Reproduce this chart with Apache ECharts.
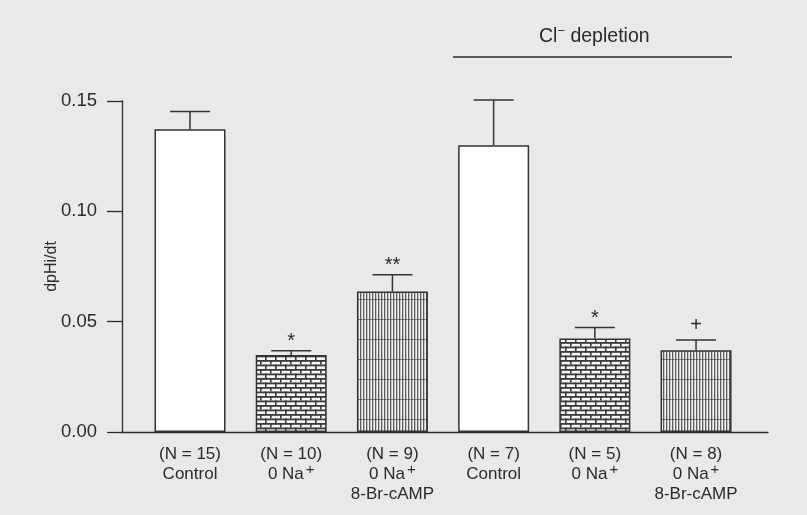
<!DOCTYPE html>
<html>
<head>
  <meta charset="utf-8">
  <title>dpHi/dt</title>
  <style type="text/css">
    html, body { margin: 0; padding: 0; background: #e8e9eb; }
    #main { width: 807px; height: 515px; }
  </style>
</head>
<body>
<div id="main"></div>
<script type="text/javascript" src="https://cdn.jsdelivr.net/npm/echarts@6/dist/echarts.min.js"></script>
<script type="text/javascript">
  // group sizes and treatments, left to right
  var nLabels = ['(N = 15)', '(N = 10)', '(N = 9)', '(N = 7)', '(N = 5)', '(N = 8)'];
  var treatments = ['Control', '0 Na+', '0 Na+ 8-Br-cAMP', 'Control', '0 Na+', '0 Na+ 8-Br-cAMP'];
  var means = [0.1372, 0.0349, 0.0637, 0.1300, 0.0424, 0.0371];
  var sems = [0.0080, 0.0019, 0.0076, 0.0204, 0.0050, 0.0046];
  var marks = ['', '*', '**', '', '*', '+'];
  var yTicks = [0, 0.05, 0.10, 0.15];

  var font = '"Liberation Sans", Arial, Helvetica, sans-serif';
  var ink = '#2a2a2a';

  // brick fill for the 0 Na+ bars
  function brickPattern() {
    var c = document.createElement('canvas');
    c.width = 10; c.height = 9;
    var g = c.getContext('2d');
    g.fillStyle = '#f6f6f6';
    g.fillRect(0, 0, 10, 9);
    g.fillStyle = '#3a3a3a';
    g.fillRect(0, 0, 10, 1.8);
    g.fillRect(0, 0, 1.6, 4.5);
    g.fillRect(0, 4.5, 10, 1.8);
    g.fillRect(5, 4.5, 1.6, 4.5);
    return { image: c, repeat: 'repeat' };
  }

  // vertical hatching for the 8-Br-cAMP bars
  function stripePattern() {
    var c = document.createElement('canvas');
    c.width = 3; c.height = 20;
    var g = c.getContext('2d');
    g.fillStyle = '#f2f2f2';
    g.fillRect(0, 0, 3, 20);
    g.fillStyle = '#5c5c5c';
    g.fillRect(0, 0, 1.3, 20);
    g.fillStyle = 'rgba(60,60,60,0.6)';
    g.fillRect(0, 19, 3, 1);
    return { image: c, repeat: 'repeat' };
  }

  var fills = { 'Control': '#ffffff', '0 Na+': brickPattern(), '0 Na+ 8-Br-cAMP': stripePattern() };

  function labelText(i) {
    var t = treatments[i];
    var lines = ['{n|' + nLabels[i] + '}'];
    if (t === 'Control') {
      lines.push('{n|Control}');
    } else {
      lines.push('{n|0 Na}{sup|+}');
      if (t.indexOf('8-Br-cAMP') >= 0) lines.push('{n|8-Br-cAMP}');
    }
    return lines.join('\n');
  }

  var barData = means.map(function (m, i) {
    return {
      value: [i, m],
      itemStyle: { color: fills[treatments[i]] }
    };
  });
  var errData = means.map(function (m, i) { return [i, m, sems[i]]; });

  var myChart = echarts.init(document.getElementById('main'));

  var option = {
    backgroundColor: '#e8e9eb',
    animation: false,
    grid: { left: 122, right: 39, top: 101, bottom: 83 },
    xAxis: {
      type: 'value',
      min: -0.672,
      max: 5.711,
      axisLine: { show: true, onZero: false, lineStyle: { color: ink, width: 1.3 } },
      axisTick: { show: false },
      axisLabel: { show: false },
      splitLine: { show: false }
    },
    yAxis: {
      type: 'value',
      min: yTicks[0],
      max: yTicks[yTicks.length - 1],
      interval: 0.05,
      name: 'dpHi/dt',
      nameLocation: 'middle',
      nameGap: 62,
      nameMoveOverlap: false,
      nameTextStyle: { fontFamily: font, fontSize: 16, color: ink },
      axisLine: { show: true, onZero: false, lineStyle: { color: ink, width: 1.3 } },
      axisTick: { show: true, inside: false, length: 15, lineStyle: { color: ink, width: 1.3 } },
      axisLabel: {
        margin: 25,
        fontFamily: font,
        fontSize: 18.5,
        color: ink,
        formatter: function (v) { return v.toFixed(2); }
      },
      splitLine: { show: false }
    },
    series: [
      {
        type: 'bar',
        barWidth: 71,
        data: barData,
        itemStyle: { borderColor: '#333333', borderWidth: 1.5 },
        label: {
          show: true,
          position: 'bottom',
          distance: 12,
          align: 'center',
          formatter: function (p) { return labelText(p.dataIndex); },
          rich: {
            n: { fontFamily: font, fontSize: 17, color: ink, lineHeight: 20 },
            sup: { fontFamily: font, fontSize: 15, color: ink, lineHeight: 20, padding: [0, 0, 9, 2] }
          }
        }
      },
      {
        type: 'custom',
        data: errData,
        z: 5,
        renderItem: function (params, api) {
          var x = api.value(0), m = api.value(1), e = api.value(2);
          var p0 = api.coord([x, m]);
          var p1 = api.coord([x, m + e]);
          var mk = marks[params.dataIndex];
          var lift = mk === '+' ? 14 : 9;
          return {
            type: 'group',
            children: [
              { type: 'line', shape: { x1: p0[0], y1: p0[1], x2: p1[0], y2: p1[1] }, style: { stroke: '#333', lineWidth: 1.5 } },
              { type: 'line', shape: { x1: p1[0] - 20, y1: p1[1], x2: p1[0] + 20, y2: p1[1] }, style: { stroke: '#333', lineWidth: 1.5 } },
              { type: 'text', x: p1[0], y: p1[1] - lift, style: { text: mk, fontFamily: font, fontSize: 20, fill: ink, align: 'center', verticalAlign: 'middle' } }
            ]
          };
        }
      }
    ],
    graphic: [
      {
        type: 'text',
        left: 539,
        top: 25,
        style: {
          text: 'Cl{sup|\u2212} depletion',
          fontFamily: font,
          fontSize: 19.5,
          fill: ink,
          rich: { sup: { fontFamily: font, fontSize: 13, fill: ink, padding: [0, 0, 10, 0] } }
        }
      },
      {
        type: 'line',
        shape: { x1: 453, y1: 57, x2: 732, y2: 57 },
        style: { stroke: ink, lineWidth: 1.3 }
      }
    ]
  };

  myChart.setOption(option);
</script>
</body>
</html>
